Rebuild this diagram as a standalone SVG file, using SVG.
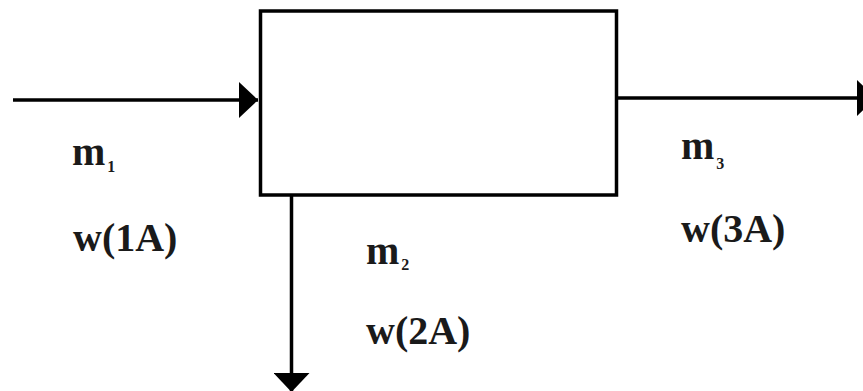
<svg xmlns="http://www.w3.org/2000/svg" width="863" height="391" viewBox="0 0 863 391">
  <style>
    .box { fill: #ffffff; stroke: #000000; stroke-width: 3.5; }
    .conn { fill: none; stroke: #000000; stroke-width: 3.5; }
    .lbl { font-family: "Liberation Serif", "Times New Roman", serif; font-weight: bold; font-size: 40px; fill: #1a1a1a; }
    .sub { font-size: 16px; }
  </style>
  <defs>
    <marker id="arrow" markerUnits="userSpaceOnUse" markerWidth="20" markerHeight="36" refX="19" refY="18" orient="auto" viewBox="0 0 20 36">
      <path d="M0,0 L19,18 L0,36 Z" fill="#000000"/>
    </marker>
  </defs>
  <rect width="863" height="391" fill="#ffffff"/>
  <g id="process">
    <rect class="box" x="260.5" y="11" width="356" height="184"/>
  </g>
  <g id="connectors">
    <line class="conn" x1="13" y1="100" x2="258" y2="100" marker-end="url(#arrow)"/>
    <line class="conn" x1="617" y1="98" x2="876" y2="98" marker-end="url(#arrow)"/>
    <line class="conn" x1="291.5" y1="195" x2="291.5" y2="392" marker-end="url(#arrow)"/>
  </g>
  <g id="label-stream1">
    <text class="lbl" x="72" y="165">m<tspan class="sub" dy="7" dx="2">1</tspan></text>
    <text class="lbl" x="73" y="251">w(1A)</text>
  </g>
  <g id="label-stream2">
    <text class="lbl" x="366" y="264">m<tspan class="sub" dy="6" dx="2">2</tspan></text>
    <text class="lbl" x="366" y="344">w(2A)</text>
  </g>
  <g id="label-stream3">
    <text class="lbl" x="681" y="159">m<tspan class="sub" dy="10" dx="2">3</tspan></text>
    <text class="lbl" x="681" y="242">w(3A)</text>
  </g>
</svg>
